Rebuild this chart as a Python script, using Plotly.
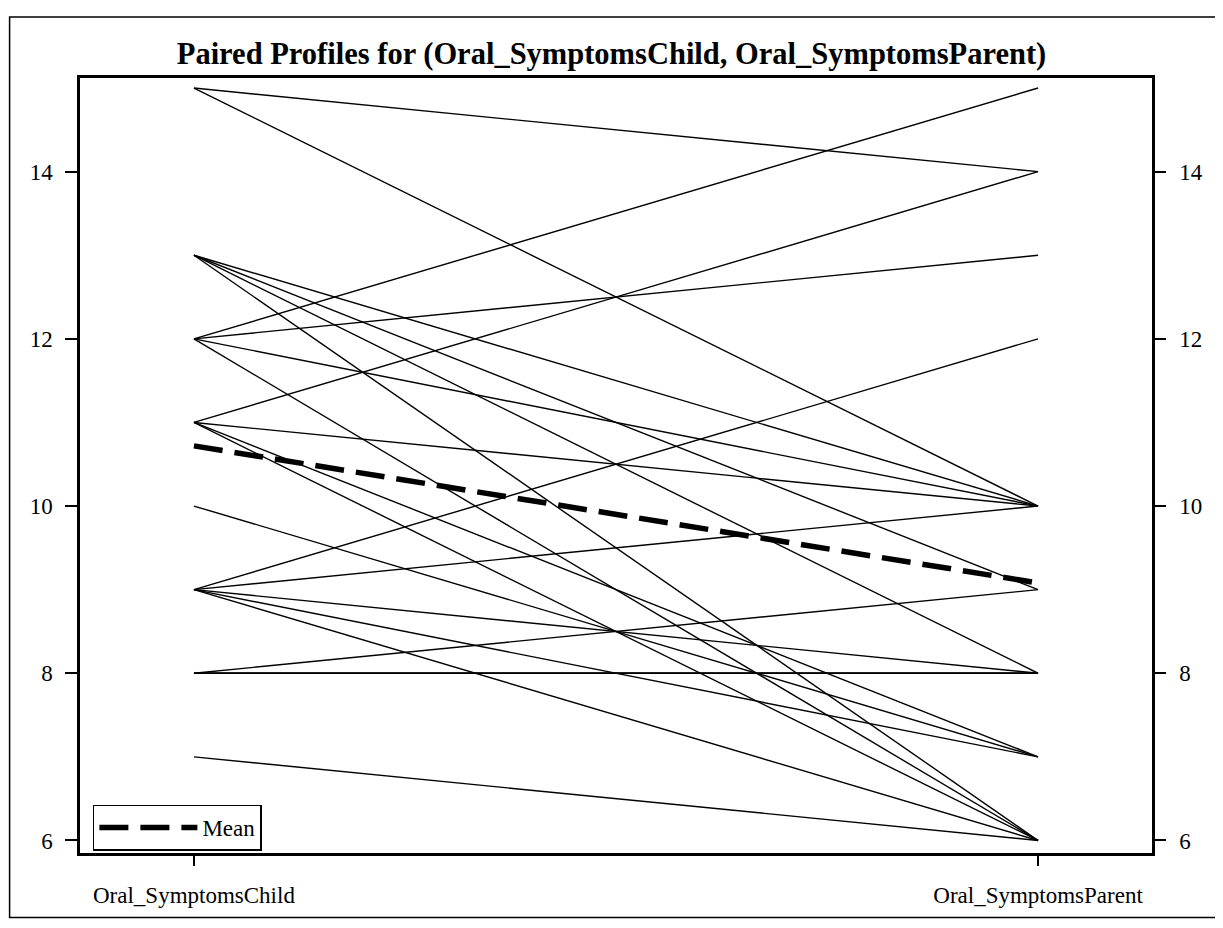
import plotly.graph_objects as go
import numpy as np

# Categories (x positions are the two measures)
categories = ["Oral_SymptomsChild", "Oral_SymptomsParent"]

# Paired values (one entry per subject)
child_values = [15, 15, 13, 13, 13, 13, 12, 12, 12, 12, 11, 11, 11, 11, 10,
                9, 9, 9, 9, 9, 8, 8, 8, 8, 7]
parent_values = [14, 10, 10, 9, 8, 6, 15, 13, 10, 6, 14, 10, 7, 6, 7,
                 12, 10, 8, 7, 6, 9, 8, 8, 8, 6]

y_tick_values = [6, 8, 10, 12, 14]
title_text = "Paired Profiles for (Oral_SymptomsChild, Oral_SymptomsParent)"
legend_label = "Mean"

FONT = "Liberation Serif, Times New Roman, serif"

# Build the profile segments
xs, ys = [], []
for c, p in zip(child_values, parent_values):
    xs += [0, 1, None]
    ys += [c, p, None]

mean_child = float(np.mean(child_values))
mean_parent = float(np.mean(parent_values))

fig = go.Figure()
fig.add_trace(go.Scatter(
    x=xs, y=ys, mode="lines", yaxis="y2",
    line=dict(color="black", width=1.4),
    showlegend=False, hoverinfo="skip",
))
fig.add_trace(go.Scatter(
    x=[0, 1], y=[mean_child, mean_parent], mode="lines",
    name=legend_label,
    line=dict(color="black", width=5.5, dash="29px,12px"),
    showlegend=True,
))

# The page body adds an 8px margin; all positions below are page pixels
OFF = 8
W, H = 1223 - 2 * OFF, 928 - 2 * OFF
left_px, right_px, top_px, bottom_px = 80, 1161, 78, 853.5
ml = left_px - OFF
mr = W - (right_px - OFF)
mt = top_px - OFF
mb = H - (bottom_px - OFF)
pw, ph = W - ml - mr, H - mt - mb

def px_to_paper_x(px):
    return (px - OFF - ml) / pw

def px_to_paper_y(py):
    return (H - mb - (py - OFF)) / ph

axis_common = dict(
    showline=True, linecolor="black", linewidth=2.5,
    ticks="outside", tickwidth=2, tickcolor="black",
    showgrid=False, zeroline=False,
    tickfont=dict(family=FONT, size=23, color="black"),
)

fig.update_layout(
    width=W, height=H,
    margin=dict(l=ml, r=mr, t=mt, b=mb),
    paper_bgcolor="white", plot_bgcolor="white",
    title=dict(text="<b>" + title_text + "</b>", x=0.5, xanchor="center",
               y=1 - (53 - OFF) / H, yanchor="middle",
               font=dict(family=FONT, size=30.5, color="black")),
    xaxis=dict(range=[-0.135, 1.135], tickvals=[0, 1], ticktext=categories,
               mirror=True, ticklen=10, ticklabelstandoff=10, **axis_common),
    yaxis=dict(range=[5.85, 15.12], tickvals=y_tick_values, mirror=True,
               ticklen=12, ticklabelstandoff=8, **axis_common),
    yaxis2=dict(range=[5.85, 15.12], tickvals=y_tick_values, overlaying="y",
                side="right", matches="y", ticklen=11, ticklabelstandoff=9,
                **axis_common),
    legend=dict(x=px_to_paper_x(93), y=px_to_paper_y(805), xanchor="left", yanchor="top",
                bgcolor="white", bordercolor="black", borderwidth=1.5,
                font=dict(family=FONT, size=23, color="black"),
                itemwidth=98, tracegroupgap=0),
    shapes=[dict(type="rect", xref="paper", yref="paper",
                 x0=px_to_paper_x(9), x1=px_to_paper_x(1240),
                 y0=px_to_paper_y(918), y1=px_to_paper_y(17),
                 line=dict(color="black", width=1.5), layer="below")],
    showlegend=True,
)

fig.write_html("out.html")
